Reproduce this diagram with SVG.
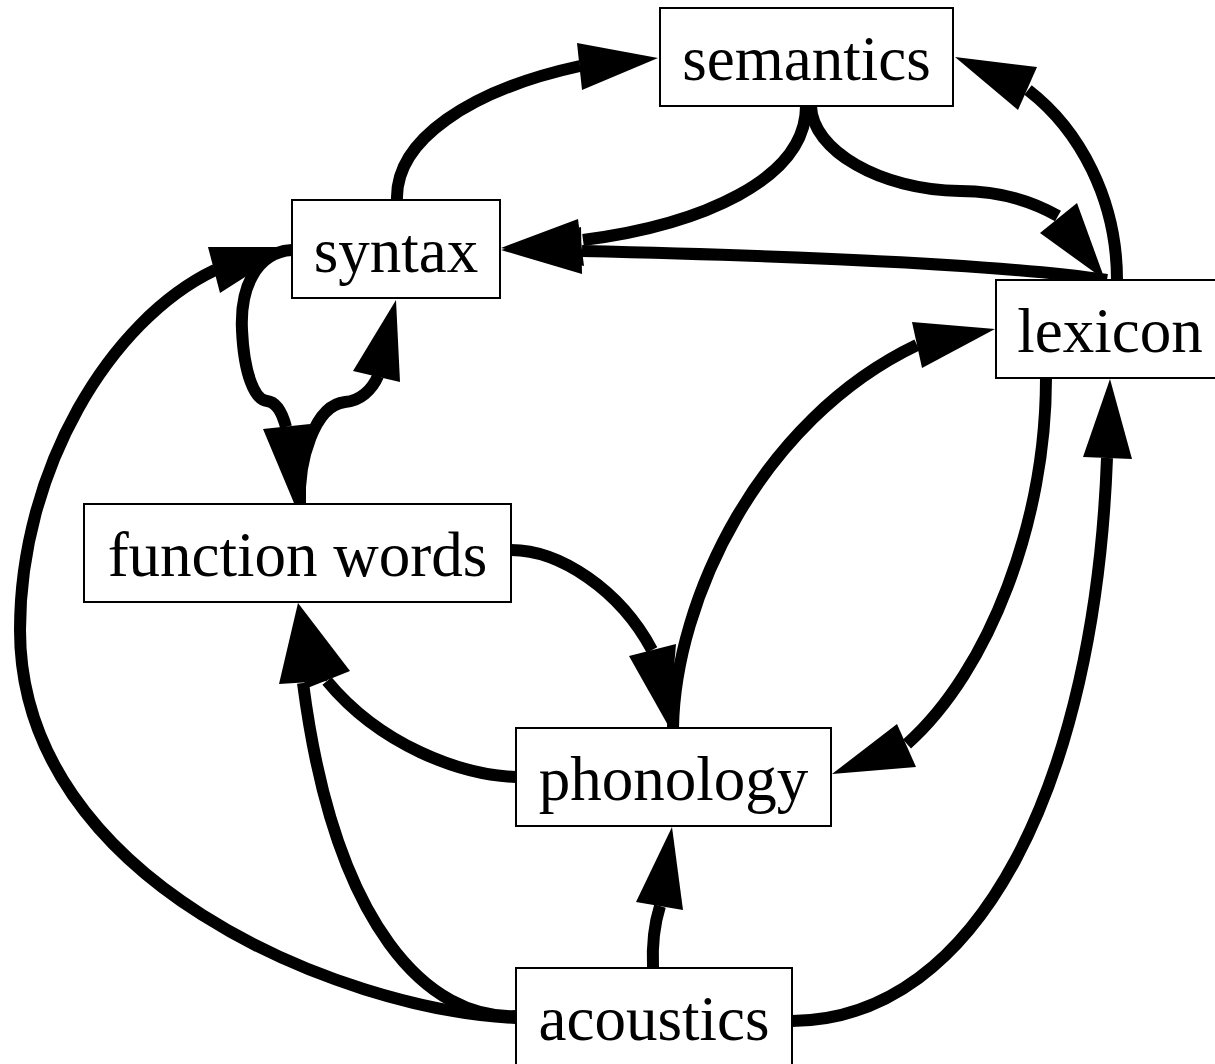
<svg xmlns="http://www.w3.org/2000/svg" width="1215" height="1064" viewBox="0 0 1215 1064">
<style>
.e{fill:none;stroke:#000;stroke-width:12}
.ah{fill:#000;stroke:none}
.n rect{fill:#fff;stroke:#000;stroke-width:2}
.n text{font-family:"Liberation Serif","Times New Roman",serif;font-size:63px;text-anchor:middle;fill:#000}
</style>
<rect width="1215" height="1064" fill="#fff"/>
<g id="edges">
<g id="syntax-semantics"><path class="e" d="M397,200 C395,140 470,90 580,66"/><polygon class="ah" points="577,43 582,90 658,58"/></g>
<g id="semantics-syntax"><path class="e" d="M806,106 C806,180 700,225 583,240"/><polygon class="ah" points="578,219 584,266 501,248"/></g>
<g id="lexicon-syntax"><path class="e" d="M1107,280 C1000,264 800,256 582,251"/><polygon class="ah" points="581,227 582,274 501,250"/></g>
<g id="semantics-lexicon"><path class="e" d="M811,106 C812,150 880,190 960,191 C1000,191 1030,200 1058,216"/><polygon class="ah" points="1040,233 1077,203 1105,280"/></g>
<g id="lexicon-semantics"><path class="e" d="M1117,280 C1117,200 1080,130 1028,90"/><polygon class="ah" points="1037,67 1018,110 955,57"/></g>
<g id="syntax-function_words"><path class="e" d="M292,250 C255,252 240,290 242,330 C244,375 255,400 267,401 C276,402 282,412 286,427"/><polygon class="ah" points="263,429 310,424 294,503"/></g>
<g id="function_words-syntax"><path class="e" d="M300,504 C298,460 315,405 345,402 C360,401 372,390 378,376"/><polygon class="ah" points="353,371 400,382 396,300"/></g>
<g id="acoustics-syntax"><path class="e" d="M516,1018 C340,1010 20,880 20,630 C20,470 110,320 215,270"/><polygon class="ah" points="208,247 220,293 292,247"/></g>
<g id="acoustics-function_words"><path class="e" d="M516,1016 C430,1020 335,930 303,683"/><polygon class="ah" points="279,684 327,681 298,603"/></g>
<g id="phonology-function_words"><path class="e" d="M516,777 C460,775 380,745 327,681"/><polygon class="ah" points="350,671 305,689 298,603"/></g>
<g id="acoustics-phonology"><path class="e" d="M653,968 C652,945 654,925 660,906"/><polygon class="ah" points="636,902 683,910 672,827"/></g>
<g id="acoustics-lexicon"><path class="e" d="M792,1021 C980,1020 1095,780 1107,458"/><polygon class="ah" points="1083,457 1132,459 1110,379"/></g>
<g id="lexicon-phonology"><path class="e" d="M1046,378 C1046,520 990,670 907,744"/><polygon class="ah" points="897,724 916,767 832,774"/></g>
<g id="phonology-lexicon"><path class="e" d="M673,728 C675,600 760,420 917,345"/><polygon class="ah" points="912,322 922,368 995,329"/></g>
<g id="function_words-phonology"><path class="e" d="M511,550 C560,550 620,590 652,650"/><polygon class="ah" points="629,656 676,644 669,727"/></g>
</g>
<g id="semantics" class="n"><rect x="660" y="8" width="293" height="98"/><text x="806.5" y="80">semantics</text></g>
<g id="syntax" class="n"><rect x="292" y="200" width="208" height="98"/><text x="396" y="272">syntax</text></g>
<g id="lexicon" class="n"><rect x="996" y="280" width="228" height="98"/><text x="1110" y="352">lexicon</text></g>
<g id="function_words" class="n"><rect x="84" y="504" width="427" height="98"/><text x="297.5" y="576">function words</text></g>
<g id="phonology" class="n"><rect x="516" y="728" width="315" height="98"/><text x="673.5" y="800">phonology</text></g>
<g id="acoustics" class="n"><rect x="516" y="968" width="276" height="98"/><text x="654" y="1040">acoustics</text></g>
</svg>
